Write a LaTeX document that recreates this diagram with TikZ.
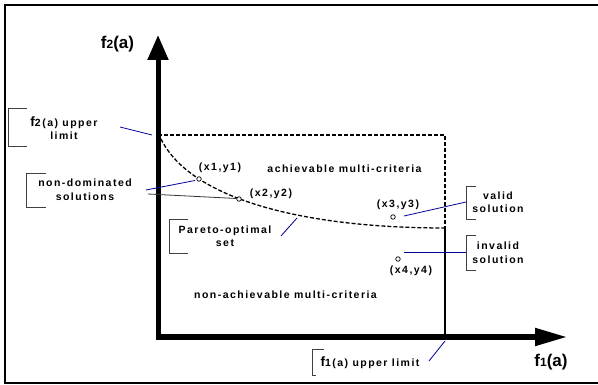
\documentclass[tikz,border=0pt]{standalone}
\usepackage{fontspec}
\setmainfont{Liberation Sans}[LetterSpace=14]
\newfontfamily\axfont{Liberation Sans}
\usetikzlibrary{arrows.meta}

% large "f" of the function names, small digit index
\newcommand\fnbig[1]{{\fontsize{13.5}{13.5}\selectfont #1}}
\newcommand\axname[1]{{\fontsize{17}{17}\selectfont f}{\fontsize{12}{12}\selectfont #1}{\fontsize{17}{17}\selectfont (a)}}

\begin{document}
\begin{tikzpicture}[x=1pt,y=-1pt,
  lbl/.style={font=\bfseries\fontsize{10.5}{13.5}\selectfont, inner sep=0pt, align=center},
  axl/.style={font=\axfont\bfseries, inner sep=0pt},
  bracket/.style={draw=black!75, line width=0.8pt},
  lead/.style={draw=blue!60!black, line width=0.8pt},
  leadk/.style={draw=black!80, line width=0.8pt},
  dotpt/.style={circle, draw, line width=0.7pt, minimum size=4.5pt, inner sep=0pt, fill=white},
  bound/.style={line width=1.3pt},
  dsh/.style={bound, dash pattern=on 4pt off 2pt}]
\useasboundingbox (0,0) rectangle (598,385);

% outer frame
\draw[line width=2pt] (5,5) rectangle (601,383);

% axes
\coordinate (O) at (158,337);
\coordinate (ytip) at (158,35);
\coordinate (xtip) at (567,337);
\draw[line width=5pt, {Triangle[length=25pt,width=20pt]}-{Triangle[length=32pt,width=17pt]}]
  (ytip) -- (O) -- (xtip);
\node[axl] (f2) at (117.5,44) {\axname{2}};
\node[axl] (f1) at (551,362) {\axname{1}};

% limits of the achievable region and the Pareto front
\coordinate (ul) at (158,135);
\coordinate (ur) at (445,135);
\coordinate (cr) at (445,228);
\coordinate (br) at (445,337);
\coordinate (cs) at (161,139);
\draw[dsh] (ul) -- (ur) -- (cr);
\draw[bound] (cr) -- (br);
\draw[dsh] (cs) .. controls (190,198) and (300,228) .. (cr);

% solutions
\node[dotpt] (p1) at (199,179) {};
\node[dotpt] (p2) at (239,199) {};
\node[dotpt] (p3) at (393,217) {};
\node[dotpt] (p4) at (398,259) {};
\node[lbl] (p1l) at (220,168) {(x1,y1)};
\node[lbl] (p2l) at (271,194) {(x2,y2)};
\node[lbl] (p3l) at (398,205) {(x3,y3)};
\node[lbl] (p4l) at (411,271) {(x4,y4)};

% region names
\node[lbl] (ach) at (344.5,169) {achievable multi-criteria};
\node[lbl] (nach) at (285.5,295) {non-achievable multi-criteria};

% callouts
\node[lbl] (f2lim) at (64,128) {\fnbig{f}2(a) upper\\limit};
\draw[bracket] (27,108) -- (8,108) -- (8,146) -- (27,146);
\node[lbl] (nd) at (85,189.5) {non-dominated\\solutions};
\draw[bracket] (46,173) -- (26,173) -- (26,207) -- (46,207);
\node[lbl] (po) at (225,236) {Pareto-optimal\\set};
\draw[bracket] (188,219) -- (169,219) -- (169,253) -- (188,253);
\node[lbl] (vs) at (498,202) {valid\\solution};
\draw[bracket] (476,186) -- (466,186) -- (466,219) -- (476,219);
\node[lbl] (is) at (498,252.5) {invalid\\solution};
\draw[bracket] (476,235) -- (466,235) -- (466,270) -- (476,270);
\node[lbl] (f1lim) at (370,363) {\fnbig{f}1(a) upper limit};
\draw[bracket] (324,349) -- (312,349) -- (312,375) -- (316,375);

% leader lines
\coordinate (a1) at (120,127);  \coordinate (a2) at (152,135);
\coordinate (b1) at (146,190);  \coordinate (b2) at (195,180.5);
\coordinate (c1) at (148,194);  \coordinate (c2) at (236.5,198.5);
\coordinate (d1) at (281,236);  \coordinate (d2) at (297,218);
\coordinate (e1) at (404,216);  \coordinate (e2) at (466,202);
\coordinate (g1) at (404,252);  \coordinate (g2) at (466,252);
\coordinate (h1) at (429,361);  \coordinate (h2) at (445,341);
\draw[lead] (a1) -- (a2);
\draw[lead] (b1) -- (b2);
\draw[leadk] (c1) -- (c2);
\draw[lead] (d1) -- (d2);
\draw[lead] (e1) -- (e2);
\draw[lead] (g1) -- (g2);
\draw[lead] (h1) -- (h2);
\end{tikzpicture}
\end{document}
